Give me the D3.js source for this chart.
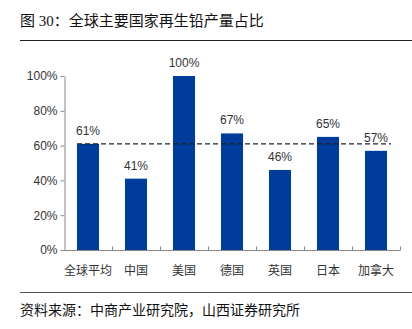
<!DOCTYPE html>
<html><head><meta charset="utf-8">
<script src="https://cdn.jsdelivr.net/npm/d3@7/dist/d3.min.js"></script>
<style>body{margin:0;background:#fff}svg{display:block}</style>
</head><body>
<script>
const categories = ["全球平均","中国","美国","德国","英国","日本","加拿大"];
const values = [61, 41, 100, 67, 46, 65, 57];
const yTicks = [0, 20, 40, 60, 80, 100];
const averageValue = 61;
const titleText = "图 30：全球主要国家再生铅产量占比";
const sourceText = "资料来源：中商产业研究院，山西证券研究所";

const W = 412, H = 329;
const svg = d3.select("body").append("svg").attr("width", W).attr("height", H);
const cjk = "'Noto Sans CJK SC', sans-serif";
const titleFont = "'Liberation Serif', 'Noto Sans CJK SC', serif";
const latin = "'Liberation Sans', Arial, sans-serif";

svg.append("text").attr("x", 20).attr("y", 26).text(titleText)
  .attr("font-family", titleFont).attr("font-size", 15).attr("fill", "#111");
svg.append("line").attr("x1", 20).attr("x2", W).attr("y1", 40.5).attr("y2", 40.5)
  .attr("stroke", "#222").attr("stroke-width", 1);
svg.append("line").attr("x1", 20).attr("x2", W).attr("y1", 292.5).attr("y2", 292.5)
  .attr("stroke", "#555").attr("stroke-width", 1);
svg.append("text").attr("x", 20).attr("y", 315).text(sourceText)
  .attr("font-family", cjk).attr("font-size", 14).attr("fill", "#111");

const x = d3.scaleBand().domain(categories).range([64, 400]).paddingInner(0.54).paddingOuter(0.27);
const y = d3.scaleLinear().domain([0, 100]).range([250, 76]);

const gy = svg.append("g").attr("transform", "translate(64.5,0)")
  .call(d3.axisLeft(y).tickValues(yTicks).tickFormat(d => d + "%").tickSize(4).tickSizeOuter(0));
gy.select(".domain").attr("stroke", "#888");
gy.selectAll(".tick line").attr("stroke", "#888");
gy.selectAll("text").attr("font-family", latin).attr("font-size", 12).attr("fill", "#333");

const xb = d3.scaleLinear().domain([0, categories.length]).range([64, 400]);
const gx = svg.append("g").attr("transform", "translate(0,250.5)");
gx.append("line").attr("x1", 64).attr("x2", 400).attr("stroke", "#888");
gx.selectAll("line.tk").data(d3.range(1, categories.length + 1)).join("line").attr("class", "tk")
  .attr("x1", d => Math.round(xb(d)) + 0.5).attr("x2", d => Math.round(xb(d)) + 0.5)
  .attr("y1", 0).attr("y2", -4).attr("stroke", "#888");
gx.selectAll("text").data(categories).join("text")
  .attr("x", d => x(d) + x.bandwidth() / 2).attr("y", 24)
  .attr("text-anchor", "middle").attr("font-family", cjk).attr("font-size", 12).attr("fill", "#333")
  .text(d => d);

svg.selectAll("rect.bar").data(categories).join("rect").attr("class", "bar")
  .attr("x", d => x(d)).attr("width", x.bandwidth())
  .attr("y", (d, i) => y(values[i])).attr("height", (d, i) => y(0) - y(values[i]))
  .attr("fill", "#003C9C");

svg.selectAll("text.val").data(categories).join("text").attr("class", "val")
  .attr("x", d => x(d) + x.bandwidth() / 2).attr("y", (d, i) => y(values[i]) - 9)
  .attr("text-anchor", "middle").attr("font-family", latin).attr("font-size", 12).attr("fill", "#333")
  .text((d, i) => values[i] + "%");

svg.append("line").attr("x1", x(categories[0])).attr("x2", x(categories[categories.length-1]) + x.bandwidth() + 4)
  .attr("y1", y(averageValue)).attr("y2", y(averageValue))
  .attr("stroke", "#222").attr("stroke-width", 1.3).attr("stroke-dasharray", "5,3");
</script>
</body></html>
